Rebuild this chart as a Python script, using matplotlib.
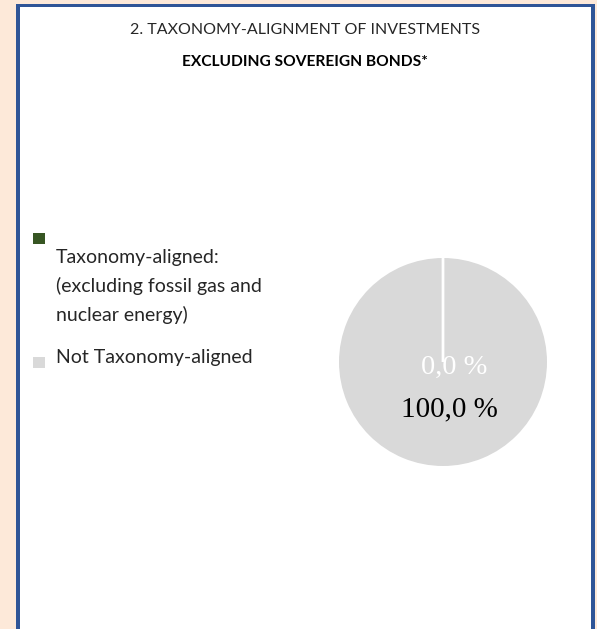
import matplotlib.pyplot as plt
from matplotlib.patches import Rectangle

# ── Data ─────────────────────────────────────────────────────────────────────
title_line1 = "2. TAXONOMY-ALIGNMENT OF INVESTMENTS"
title_line2 = "EXCLUDING SOVEREIGN BONDS*"
categories = [["Taxonomy-aligned:", "(excluding fossil gas and", "nuclear energy)"],
              ["Not Taxonomy-aligned"]]
shares = [0.0, 100.0]
share_labels = ["0,0 %", "100,0 %"]
colors = ["#375623", "#D9D9D9"]

W, H = 597, 629
PEACH = "#FDE9D9"
BLUE = "#2F5597"

fig = plt.figure(figsize=(W / 100, H / 100), dpi=100)
fig.patch.set_facecolor(PEACH)
ax = fig.add_axes([0, 0, 1, 1])


def y(px):
    """pixel row (top = 0) -> data y"""
    return H - px


# ── Pie ──────────────────────────────────────────────────────────────────────
cx, cy, r = 443, y(362), 104
wedges, _ = ax.pie(shares, colors=colors, startangle=90, counterclock=False,
                   center=(cx, cy), radius=r, frame=True,
                   wedgeprops=dict(edgecolor="white", linewidth=2))
wedges[0].set_zorder(5)      # keep the 0 % slice edge visible on top
wedges[1].set_linewidth(0)
ax.set_xlim(0, W)
ax.set_ylim(0, H)
ax.set_aspect("equal")
ax.axis("off")

ax.text(cx + 11, cy - 5, share_labels[0], ha="center", va="center",
        fontsize=20.5, family="Liberation Serif", color="white", zorder=6)
ax.text(cx + 6, cy - 47, share_labels[1], ha="center", va="center",
        fontsize=21, family="Liberation Serif", color="black", zorder=6)

# ── Panel and border ─────────────────────────────────────────────────────────
ax.add_patch(Rectangle((18, 0), 575, y(6), facecolor="white",
                       edgecolor="none", zorder=0))
ax.add_patch(Rectangle((16, 0), 4, y(4), facecolor=BLUE, edgecolor="none"))
ax.add_patch(Rectangle((591, 0), 4, y(4), facecolor=BLUE, edgecolor="none"))
ax.add_patch(Rectangle((16, y(7)), 579, 3, facecolor=BLUE, edgecolor="none"))

# ── Titles ───────────────────────────────────────────────────────────────────
font = "Lato"
ax.text(305, y(30), title_line1, ha="center", va="center",
        fontsize=11.5, family=font, color="#262626")
ax.text(305, y(66), title_line2, ha="center", va="baseline",
        fontsize=11.2, family=font, weight="bold", color="black")

# ── Legend ───────────────────────────────────────────────────────────────────
ax.add_patch(Rectangle((33, y(244)), 12, 11, facecolor=colors[0], edgecolor="none"))
for i, line in enumerate(categories[0]):
    ax.text(56, y(263 + 29 * i), line, ha="left", va="baseline", fontsize=14,
            family=font, color="#262626")
ax.add_patch(Rectangle((33, y(368)), 12, 11, facecolor=colors[1], edgecolor="none"))
ax.text(56, y(363), categories[1][0], ha="left", va="baseline", fontsize=14,
        family=font, color="#262626")

fig.savefig("out.png", dpi=100, facecolor=PEACH)
